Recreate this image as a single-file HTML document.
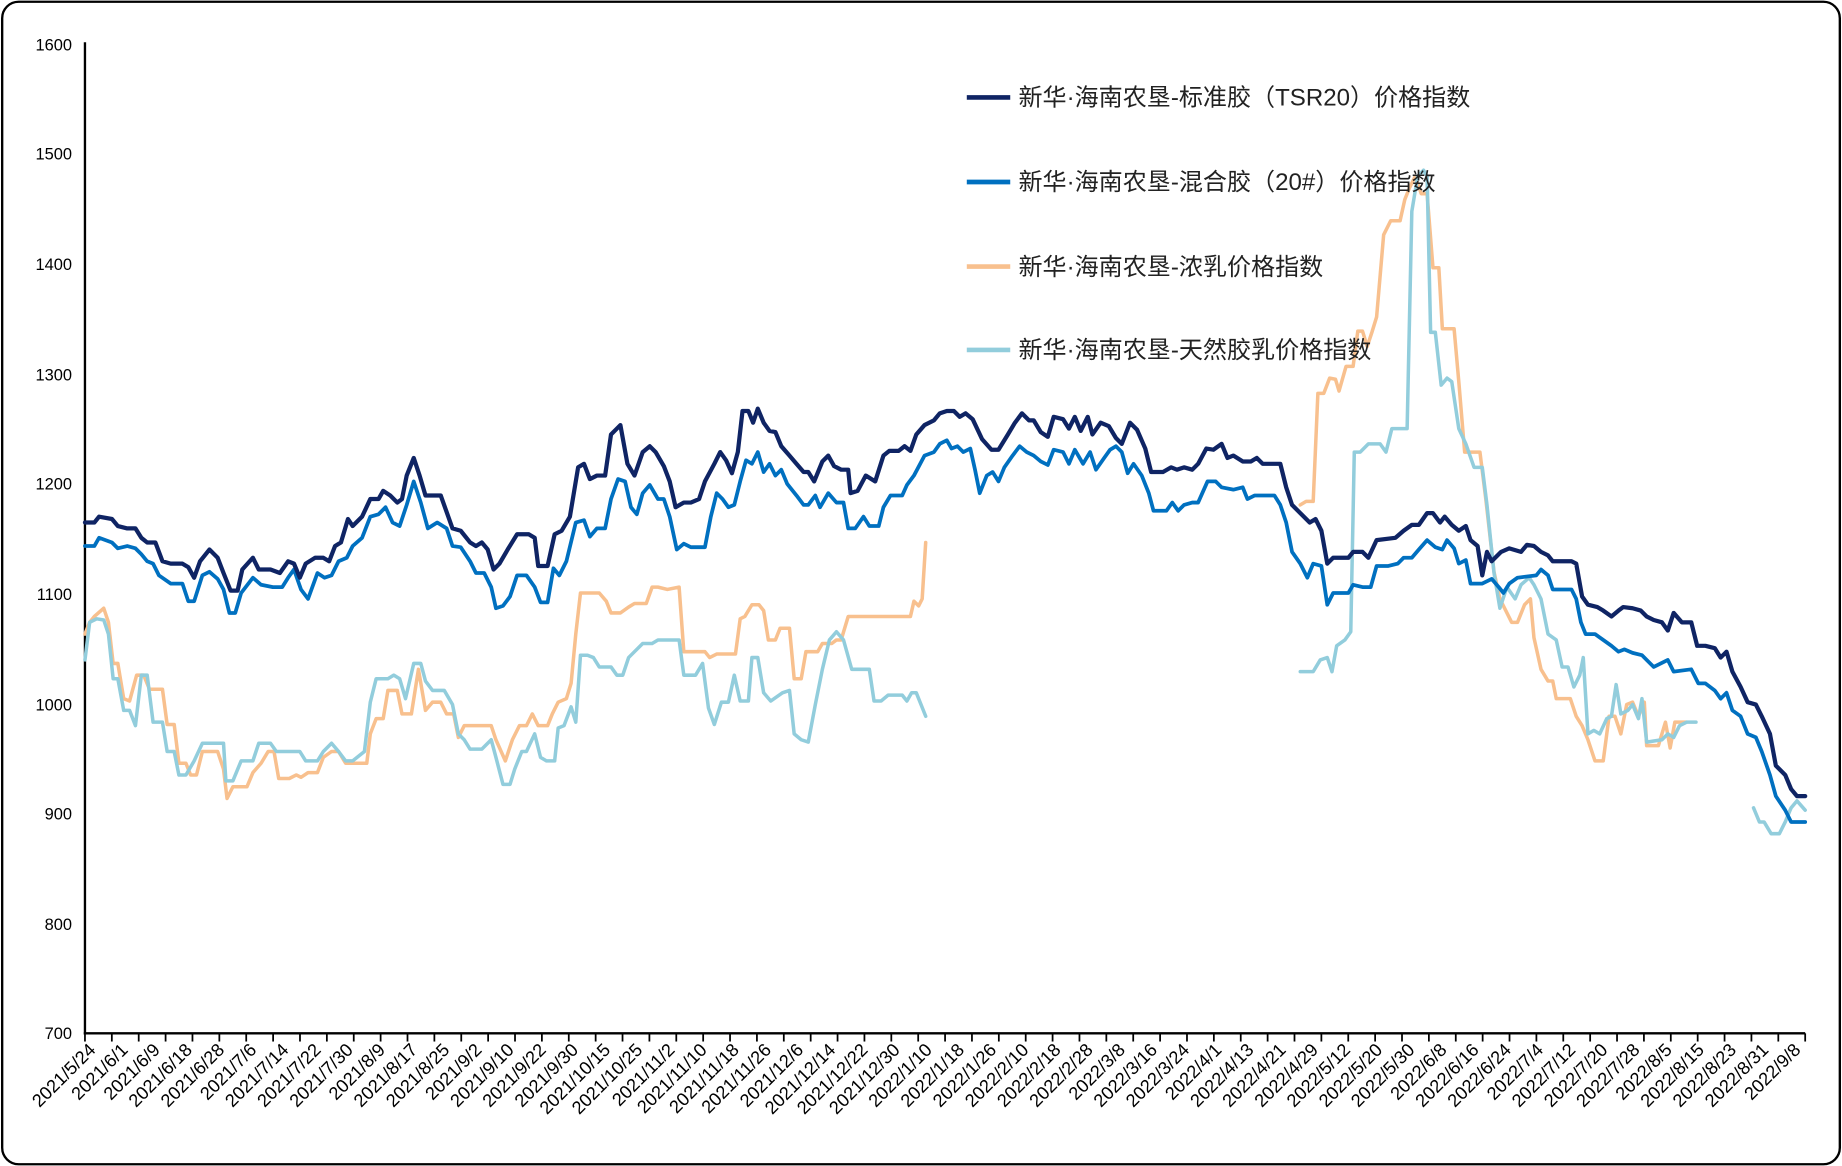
<!DOCTYPE html>
<html><head><meta charset="utf-8"><style>
html,body{margin:0;padding:0;background:#fff}
svg{display:block}
text{font-family:"Liberation Sans","Noto Sans CJK SC",sans-serif}
</style></head><body>
<svg width="1842" height="1166" viewBox="0 0 1568 993" xmlns="http://www.w3.org/2000/svg">
<rect x="1.5" y="1.5" width="1565" height="990" rx="14" fill="#fff" stroke="#000" stroke-width="2"/>
<g font-size="14" fill="#000" text-anchor="end">
<text x="61" y="43">1600</text><text x="61" y="136">1500</text><text x="61" y="230">1400</text>
<text x="61" y="324">1300</text><text x="61" y="417">1200</text><text x="61" y="511">1100</text>
<text x="61" y="605">1000</text><text x="61" y="698">900</text><text x="61" y="792">800</text>
<text x="61" y="885">700</text>
</g>
<line x1="72" y1="36" x2="72" y2="881" stroke="#000" stroke-width="2"/>
<line x1="71" y1="880" x2="1537" y2="880" stroke="#000" stroke-width="2"/>
<g id="ticks" stroke="#000" stroke-width="1.5"></g>
<g id="labels" font-size="15.5" fill="#000" text-anchor="end"></g>
<g fill="none" stroke-linejoin="round" stroke-linecap="round">
<polyline stroke="#f8c08e" stroke-width="3" points="72,540 76,530 80,525 88,518 92,530 96,565 100,565 105,595 110,597 116,575 122,575 127,587 138,587 142,617 148,617 152,650 158,650 162,660 167,660 172,640 185,640 190,655 193,680 198,670 210,670 215,658 222,650 228,640 233,640 237,663 246,663 252,660 256,662 262,658 270,658 275,645 282,640 288,640 294,650 312,650 315,625 320,612 326,612 330,588 338,588 342,608 350,608 356,570 362,605 368,598 375,598 380,608 386,608 390,628 395,618 418,618 422,630 430,648 436,630 442,618 448,618 453,608 458,618 466,618 470,608 475,598 482,595 486,582 490,540 494,505 510,505 516,512 520,522 528,522 535,517 540,514 550,514 555,500 560,500 568,502 578,500 582,555 600,555 604,560 610,557 626,557 630,527 634,525 640,515 646,515 650,520 654,545 660,545 664,535 672,535 676,578 682,578 686,555 696,555 700,548 708,548 712,545 716,545 722,525 775,525 778,512 782,516 785,510 788,462"/>
<polyline stroke="#f8c08e" stroke-width="3" points="1107,430 1112,427 1118,427 1122,335 1127,335 1132,322 1137,323 1140,333 1146,312 1152,312 1156,282 1160,282 1164,295 1168,283 1172,270 1178,200 1184,188 1192,188 1196,170 1200,160 1205,150 1210,165 1215,165 1220,228 1225,228 1228,280 1238,280 1242,325 1247,385 1260,385 1265,425 1272,487 1277,510 1282,520 1287,530 1292,530 1298,515 1303,510 1306,543 1312,570 1318,580 1322,580 1325,595 1337,595 1342,610 1347,618 1352,630 1358,648 1365,648 1370,610 1375,610 1380,625 1385,600 1390,598 1395,610 1400,598 1402,635 1412,635 1418,615 1422,637 1426,615 1436,615"/>
<polyline stroke="#92cddc" stroke-width="3" points="72,562 76,530 82,527 88,528 92,540 96,578 100,578 105,605 110,605 115,618 120,575 125,575 130,615 138,615 142,640 148,640 152,660 158,660 165,648 172,633 190,633 192,665 198,665 205,648 215,648 220,633 230,633 235,640 255,640 260,648 270,648 275,640 282,633 288,640 294,648 300,648 310,640 315,598 320,578 330,578 335,575 340,578 345,595 352,565 358,565 362,580 368,588 378,588 385,600 390,625 395,630 400,638 410,638 418,630 422,645 428,668 434,668 438,655 444,640 448,640 455,625 460,645 465,648 472,648 475,620 480,618 486,602 490,615 494,558 500,558 505,560 510,568 520,568 525,575 530,575 535,560 540,555 547,548 555,548 560,545 578,545 582,575 592,575 598,565 603,603 608,617 614,598 620,598 625,575 630,597 637,597 640,560 645,560 650,590 656,597 666,590 672,588 676,625 682,630 688,632 694,600 700,570 706,545 712,538 718,545 725,570 740,570 744,597 750,597 756,592 768,592 772,597 776,590 780,590 784,600 788,610"/>
<polyline stroke="#92cddc" stroke-width="3" points="1107,572 1118,572 1124,562 1130,560 1134,572 1138,550 1145,545 1150,538 1153,385 1158,385 1165,378 1175,378 1180,385 1185,365 1198,365 1202,180 1207,150 1212,145 1215,150 1218,283 1222,283 1227,328 1232,322 1236,325 1242,365 1248,378 1255,398 1262,398 1266,430 1272,488 1277,518 1283,500 1290,510 1295,498 1302,492 1306,498 1312,510 1318,540 1325,545 1330,568 1335,568 1340,585 1345,575 1348,560 1352,625 1357,622 1362,625 1368,612 1372,610 1376,583 1380,608 1386,605 1390,600 1395,612 1398,595 1402,632 1415,630 1420,625 1425,628 1430,618 1436,615 1444,615"/>
<polyline stroke="#92cddc" stroke-width="3" points="1493,688 1498,700 1502,700 1508,710 1515,710 1520,700 1525,688 1530,682 1537,690"/>
<polyline stroke="#0070c0" stroke-width="3.2" points="72,465 80,465 84,458 95,462 100,467 108,465 115,467 120,472 125,478 130,480 135,490 145,497 155,497 160,512 165,512 172,490 178,487 185,493 190,502 195,522 200,522 205,505 215,492 222,498 232,500 240,500 245,492 250,485 256,502 262,510 270,488 276,492 282,490 288,478 295,475 300,465 308,458 315,440 322,438 328,432 334,445 340,448 346,430 352,410 358,428 364,450 372,445 380,450 385,465 392,466 400,478 405,488 412,488 418,500 422,518 428,516 434,508 440,490 448,490 455,500 460,513 466,513 471,484 476,490 482,478 490,445 497,443 502,457 508,450 515,450 520,425 526,408 532,410 537,432 542,438 547,420 553,413 560,425 565,425 570,440 576,468 582,463 588,466 600,466 605,440 610,420 615,425 620,432 625,430 630,410 635,392 640,395 645,385 650,402 655,395 660,405 665,400 670,412 678,422 684,430 688,430 694,422 698,432 705,420 712,428 718,428 722,450 728,450 735,440 740,448 748,448 752,432 758,422 768,422 772,413 778,405 787,388 795,385 800,378 806,375 810,382 815,380 820,385 826,382 830,400 834,420 840,405 845,402 850,410 855,398 862,388 868,380 874,385 880,388 886,393 892,396 897,383 905,385 910,395 915,383 922,395 928,385 933,400 940,390 945,383 950,380 955,385 960,403 965,395 972,405 978,420 982,435 993,435 998,428 1003,435 1008,430 1015,428 1020,428 1028,410 1035,410 1040,415 1050,417 1058,415 1062,425 1068,422 1085,422 1090,430 1095,445 1100,470 1107,480 1113,492 1118,480 1125,482 1130,515 1135,505 1148,505 1152,498 1160,500 1167,500 1172,482 1182,482 1190,480 1195,475 1202,475 1208,468 1215,460 1222,466 1228,468 1232,460 1238,467 1242,480 1248,477 1252,497 1262,497 1270,493 1276,500 1280,505 1285,497 1292,492 1308,490 1312,485 1318,490 1322,502 1338,502 1342,510 1346,530 1350,540 1358,540 1365,545 1372,550 1378,555 1383,553 1390,556 1398,558 1402,562 1408,568 1414,565 1420,562 1425,572 1440,570 1446,582 1452,582 1460,588 1465,595 1470,590 1475,605 1482,610 1488,625 1495,628 1500,640 1507,660 1512,678 1520,690 1525,700 1537,700"/>
<polyline stroke="#0f2464" stroke-width="3.6" points="72,445 80,445 84,440 95,442 100,448 108,450 115,450 120,458 125,462 132,462 138,478 145,480 155,480 160,483 165,492 170,478 178,468 185,475 190,488 196,503 202,503 206,485 215,475 220,485 230,485 238,488 245,478 250,480 255,492 260,480 268,475 275,475 280,478 285,465 290,462 296,442 300,448 308,440 315,425 322,425 326,418 332,422 338,428 342,425 346,405 352,390 357,405 362,422 375,422 385,450 392,452 400,462 405,465 410,462 415,468 420,485 425,480 432,468 440,455 450,455 455,458 458,482 466,482 472,455 478,452 485,440 492,398 497,395 502,408 508,405 515,405 520,370 528,362 534,395 540,405 547,385 553,380 558,385 565,397 570,410 575,432 582,428 588,428 595,425 600,410 608,395 613,385 618,392 623,403 628,385 632,350 637,350 641,360 645,348 650,360 655,367 660,368 665,380 672,388 678,395 684,402 688,402 693,410 700,393 705,388 710,397 716,400 722,400 724,420 730,418 737,405 745,410 752,388 757,384 765,384 770,380 775,384 780,370 787,362 795,358 800,352 806,350 812,350 817,355 822,352 828,357 836,374 844,383 850,383 858,370 864,360 870,352 876,358 880,358 886,368 892,372 897,355 905,357 910,365 915,355 920,367 926,355 930,370 937,360 944,363 950,373 955,378 962,360 968,366 975,382 980,402 990,402 997,398 1002,400 1008,398 1015,400 1020,395 1027,382 1033,383 1040,378 1045,390 1050,388 1058,393 1065,393 1070,390 1075,395 1090,395 1095,415 1100,430 1107,437 1115,445 1120,442 1125,452 1130,480 1135,475 1148,475 1152,470 1160,470 1165,475 1172,460 1188,458 1195,452 1202,447 1208,447 1215,437 1220,437 1226,445 1230,440 1236,447 1242,452 1248,448 1252,460 1258,465 1262,490 1266,470 1270,478 1278,470 1285,467 1295,470 1300,464 1306,465 1312,470 1318,473 1322,478 1338,478 1342,480 1347,508 1352,515 1360,517 1365,520 1372,525 1378,520 1382,517 1390,518 1397,520 1402,525 1408,528 1415,530 1420,537 1425,522 1432,530 1440,530 1445,550 1452,550 1460,552 1465,560 1470,555 1475,572 1482,585 1488,598 1495,600 1500,610 1507,625 1512,652 1520,660 1525,672 1530,678 1537,678"/>
</g>
<g stroke-width="4">
<line x1="823" y1="83" x2="860" y2="83" stroke="#0f2464"/>
<line x1="823" y1="155" x2="860" y2="155" stroke="#0070c0"/>
<line x1="823" y1="227" x2="860" y2="227" stroke="#f8c08e"/>
<line x1="823" y1="298" x2="860" y2="298" stroke="#92cddc"/>
</g>
<g font-size="20.5" fill="#222">
<text x="867" y="90">新华·海南农垦-标准胶（TSR20）价格指数</text>
<text x="867" y="162">新华·海南农垦-混合胶（20#）价格指数</text>
<text x="867" y="234">新华·海南农垦-浓乳价格指数</text>
<text x="867" y="305">新华·海南农垦-天然胶乳价格指数</text>
</g>
</svg>
<script>
(function(){
var ns="http://www.w3.org/2000/svg";
var t=document.getElementById("ticks");
for(var i=0;i<=64;i++){var x=72+i*1465/64;var l=document.createElementNS(ns,"line");
l.setAttribute("x1",x);l.setAttribute("x2",x);l.setAttribute("y1",880);l.setAttribute("y2",887);t.appendChild(l);}
var labs=["2021/5/24","2021/6/1","2021/6/9","2021/6/18","2021/6/28","2021/7/6","2021/7/14","2021/7/22","2021/7/30","2021/8/9","2021/8/17","2021/8/25","2021/9/2","2021/9/10","2021/9/22","2021/9/30","2021/10/15","2021/10/25","2021/11/2","2021/11/10","2021/11/18","2021/11/26","2021/12/6","2021/12/14","2021/12/22","2021/12/30","2022/1/10","2022/1/18","2022/1/26","2022/2/10","2022/2/18","2022/2/28","2022/3/8","2022/3/16","2022/3/24","2022/4/1","2022/4/13","2022/4/21","2022/4/29","2022/5/12","2022/5/20","2022/5/30","2022/6/8","2022/6/16","2022/6/24","2022/7/4","2022/7/12","2022/7/20","2022/7/28","2022/8/5","2022/8/15","2022/8/23","2022/8/31","2022/9/8"];
var g=document.getElementById("labels");
for(var j=0;j<labs.length;j++){var x=82+j*1452/53,y=895;var e=document.createElementNS(ns,"text");
e.setAttribute("x",x);e.setAttribute("y",y);e.setAttribute("transform","rotate(-45 "+x+" "+y+")");e.textContent=labs[j];g.appendChild(e);}
})();
</script>
</body></html>
